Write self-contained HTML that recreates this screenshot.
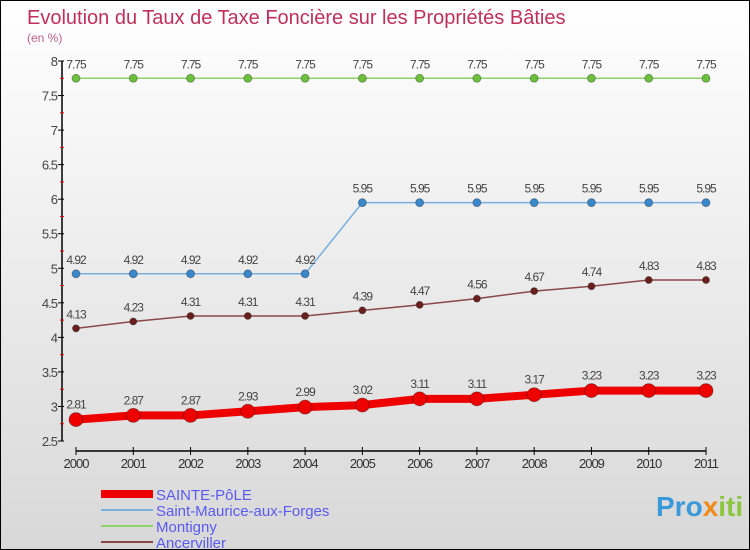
<!DOCTYPE html>
<html><head><meta charset="utf-8"><style>
body{margin:0}
#c{width:750px;height:550px;position:relative;box-sizing:border-box;border:1px solid #000;background:linear-gradient(#fff,#d8d8d8);font-family:"Liberation Sans",sans-serif;overflow:hidden}
text{font-family:"Liberation Sans",sans-serif}
</style></head><body>
<div id="c">
<svg width="750" height="550" id="s">
<text x="26" y="23" font-size="20" fill="#c0305a">Evolution du Taux de Taxe Foncière sur les Propriétés Bâties</text>
<text x="26" y="41" font-size="12" fill="#c0608a">(en %)</text>
<g id="g"></g>
<text x="655" y="515" font-size="28" font-weight="bold" fill="#3a9ad9">Pro<tspan fill="#f08a1a">x</tspan><tspan fill="#8cc63f">iti</tspan></text>
</svg>
</div>
<script>
const years=[2000,2001,2002,2003,2004,2005,2006,2007,2008,2009,2010,2011];
const sainte=[2.81,2.87,2.87,2.93,2.99,3.02,3.11,3.11,3.17,3.23,3.23,3.23];
const stMaurice=[4.92,4.92,4.92,4.92,4.92,5.95,5.95,5.95,5.95,5.95,5.95,5.95];
const montigny=[7.75,7.75,7.75,7.75,7.75,7.75,7.75,7.75,7.75,7.75,7.75,7.75];
const ancerviller=[4.13,4.23,4.31,4.31,4.31,4.39,4.47,4.56,4.67,4.74,4.83,4.83];
const yTicks=[2.5,3,3.5,4,4.5,5,5.5,6,6.5,7,7.5,8];
const names=["SAINTE-PôLE","Saint-Maurice-aux-Forges","Montigny","Ancerviller"];
const NS="http://www.w3.org/2000/svg";
const g=document.getElementById('g');
const X=i=>75+i*(630/(years.length-1));
const Y=v=>440-(v-2.5)*(380/5.5);
function mk(t,a){const e=document.createElementNS(NS,t);for(const k in a)e.setAttribute(k,a[k]);g.appendChild(e);return e;}
let e=mk('line',{x1:61,y1:60,x2:61,y2:440,stroke:'#000','stroke-width':1.5});


e=mk('line',{x1:75,y1:450,x2:705,y2:450,stroke:'#000','stroke-width':1.5});


yTicks.forEach(v=>{
 e=mk('line',{x1:57,x2:63,y1:Y(v),y2:Y(v),stroke:'#000'});
 
 
 e=mk('text',{x:56,y:Y(v)+5,'font-size':13,fill:'#444','text-anchor':'end','letter-spacing':'-1'});e.textContent=v;
 
 
 if(v<8){e=mk('line',{x1:59,x2:63,y1:Y(v+0.25),y2:Y(v+0.25),stroke:'#e00'});
 
 }
});
years.forEach((y,i)=>{
 e=mk('line',{x1:X(i),x2:X(i),y1:446,y2:454,stroke:'#000'});
 
 
 e=mk('text',{x:X(i),y:467,'font-size':13,fill:'#333','text-anchor':'middle','letter-spacing':'-1'});e.textContent=y;
 
 
});
const series=[[montigny,'#8fd46a','#6cc03c',1.5,4],[stMaurice,'#7aaedc','#3a88cc',1.5,4],[ancerviller,'#8a4848','#6a1e1e',1.5,3.5],[sainte,'#e00','#e00',8,7]];
series.forEach(([d,lc,pc,w,r],si)=>{
 e=mk('polyline',{points:d.map((v,i)=>X(i)+','+Y(v)).join(' '),fill:'none',stroke:lc,'stroke-width':w});
 
 
 d.forEach((v,i)=>{
  e=mk('circle',{cx:X(i),cy:Y(v),r:r,fill:pc,stroke:'rgba(0,0,0,0.3)','stroke-width':1});
  
  
  e=mk('text',{x:X(i),y:Y(v)-(r>5?11:10),'font-size':12,fill:'#444','text-anchor':'middle','letter-spacing':'-1'});e.textContent=v;
  
  
 });
});
const leg=[['#e00',8],['#7aaedc',2],['#8fd46a',2],['#8a4848',2]];
leg.forEach(([c,w],i)=>{
 const y=493+i*16;
 e=mk('line',{x1:100,x2:152,y1:y,y2:y,stroke:c,'stroke-width':w});
 
 
 e=mk('text',{x:155,y:y+6,'font-size':15,fill:'#5a5af0'});e.textContent=names[i];
 
 
});
</script>
</body></html>
